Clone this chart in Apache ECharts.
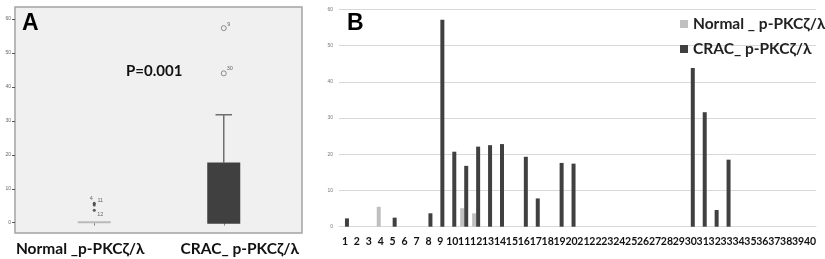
<!DOCTYPE html>
<html>
<head>
<meta charset="utf-8">
<script src="https://cdn.jsdelivr.net/npm/echarts@6/dist/echarts.min.js"></script>
<style>
html, body { margin: 0; padding: 0; background: #fff; }
#chart { width: 825px; height: 259px; }
</style>
</head>
<body>
<div id="chart"></div>
<script>
// ---- panel A : box plot ----
var groups = ['Normal _p-PKCζ/λ', 'CRAC_ p-PKCζ/λ'];
// [low whisker, Q1, median, Q3, high whisker]
var boxStats = [
  [0, 0, 0, 0.4, 0.4],
  [-0.3, -0.3, -0.3, 17.7, 31.8]
];
// [group index, value, case number]
var outliers = [
  [0, 5.7, '4'],
  [0, 5.2, '11'],
  [0, 3.7, '12'],
  [1, 57.3, '9'],
  [1, 44.0, '30']
];
var pText = 'P=0.001';

// ---- panel B : per case bars ----
var cases = ['1','2','3','4','5','6','7','8','9','10','11','12','13','14','15','16','17','18','19','20',
  '21','22','23','24','25','26','27','28','29','30','31','32','33','34','35','36','37','38','39','40'];
var normalVals = [0,0,0,5.5,0,0,0,0,0,0, 5.1,3.7,0,0,0,0,0,0,0,0,
  0,0,0,0,0,0,0,0,0,0, 0,0,0,0,0,0,0,0,0,0];
var cracVals = [2.3,0,0,0,2.5,0,0,3.7,57.1,20.7, 16.8,22.1,22.5,22.8,0,19.3,7.8,0,17.6,17.4,
  0,0,0,0,0,0,0,0,0,43.8, 31.6,4.6,18.5,0,0,0,0,0,0,0];
var seriesNames = ['Normal _ p-PKCζ/λ', 'CRAC_ p-PKCζ/λ'];

var boxColors = ['#bababa', '#404040'];
var labelFont = 'Lato, "Open Sans", sans-serif';

// where the case numbers sit around each outlier
var outlierLabelOffset = {
  '4': [-3, -5], '11': [6, -5], '12': [6, 4], '9': [5, -4], '30': [6, -5]
};

var chart = echarts.init(document.getElementById('chart'));

function renderBox(params, api) {
  var i = api.value(0);
  var q1 = api.coord([i, api.value(2)]);
  var q3 = api.coord([i, api.value(4)]);
  var hi = api.coord([i, api.value(5)]);
  var bw = api.size([1, 0])[0] * 0.255;
  var cx = q1[0];
  var kids = [];
  if (hi[1] < q3[1] - 0.5) {
    kids.push({ type: 'line', shape: { x1: cx, y1: q3[1], x2: cx, y2: hi[1] },
      style: { stroke: '#6e6e6e', lineWidth: 1.5 } });
    kids.push({ type: 'line', shape: { x1: cx - bw / 4, y1: hi[1], x2: cx + bw / 4, y2: hi[1] },
      style: { stroke: '#6e6e6e', lineWidth: 1.5 } });
  }
  kids.push({ type: 'rect',
    shape: { x: cx - bw / 2, y: q3[1], width: bw, height: Math.max(q1[1] - q3[1], 2) },
    style: { fill: boxColors[params.dataIndex] } });
  return { type: 'group', children: kids };
}

var option = {
  animation: false,
  title: [
    { text: 'A', left: 22, top: 12, padding: 0,
      textStyle: { fontFamily: 'Liberation Sans, Arial', fontWeight: 'bold', fontSize: 23, color: '#000' } },
    { text: 'B', left: 347, top: 12, padding: 0,
      textStyle: { fontFamily: 'Liberation Sans, Arial', fontWeight: 'bold', fontSize: 23, color: '#000' } },
    { text: pText, left: 126, top: 64, padding: 0,
      textStyle: { fontFamily: labelFont, fontWeight: 'bold', fontSize: 15, color: '#111' } }
  ],
  legend: {
    data: seriesNames,
    orient: 'vertical',
    left: 680,
    top: 16,
    padding: 0,
    icon: 'rect',
    itemWidth: 8,
    itemHeight: 8,
    itemGap: 9,
    textStyle: { fontFamily: labelFont, fontWeight: 'bold', fontSize: 15.5, color: '#222' }
  },
  grid: [
    // frame of panel A
    { left: 15, top: 7, width: 287, height: 226, show: true,
      backgroundColor: '#f0f0f0', borderColor: '#a3a3a3', borderWidth: 1.5 },
    // box plot area
    { left: 29.5, top: 19, width: 259, height: 203.7 },
    // panel B
    { left: 339, right: 9, top: 9.3, bottom: 32.3 }
  ],
  xAxis: [
    { gridIndex: 0, type: 'value', show: false, min: 0, max: 1 },
    { gridIndex: 1, type: 'category', data: groups, offset: 10.3,
      axisLine: { show: false },
      axisTick: { show: true, alignWithLabel: true, length: 3, lineStyle: { color: '#888' } },
      axisLabel: {
        interval: 0,
        hideOverlap: false,
        margin: 8,
        formatter: function (v, i) { return i === 0 ? '{l|' + v + '}' : '{r|' + v + '}'; },
        rich: {
          l: { fontFamily: labelFont, fontWeight: 'bold', fontSize: 15.5, color: '#111', padding: [0, 28, 0, 0] },
          r: { fontFamily: labelFont, fontWeight: 'bold', fontSize: 15.5, color: '#111', padding: [0, 0, 0, 32] }
        }
      } },
    { gridIndex: 2, type: 'category', data: cases,
      axisLine: { show: true, lineStyle: { color: '#d9d9d9', width: 1 } },
      axisTick: { show: false },
      axisLabel: { interval: 0, hideOverlap: false, margin: 9, fontFamily: labelFont, fontWeight: 'bold',
        fontSize: 10.5, color: '#111' } }
  ],
  yAxis: [
    { gridIndex: 0, type: 'value', show: false, min: 0, max: 1 },
    { gridIndex: 1, type: 'value', min: 0, max: 60, interval: 10, offset: 14.5,
      axisLine: { show: false },
      axisTick: { show: true, length: 3, lineStyle: { color: '#555' } },
      axisLabel: { margin: 4, fontSize: 5, color: '#666', fontFamily: 'Liberation Sans, Arial' },
      splitLine: { show: false } },
    { gridIndex: 2, type: 'value', min: 0, max: 60, interval: 10,
      axisLine: { show: false },
      axisTick: { show: false },
      axisLabel: { margin: 6, fontSize: 5, color: '#777', fontFamily: 'Liberation Sans, Arial' },
      splitLine: { show: true, lineStyle: { color: '#d9d9d9', width: 1 } } }
  ],
  series: [
    { type: 'custom', xAxisIndex: 1, yAxisIndex: 1,
      renderItem: renderBox,
      encode: { x: 0, y: [1, 2, 3, 4, 5] },
      data: boxStats.map(function (s, i) { return [i].concat(s); }) },
    { type: 'scatter', xAxisIndex: 1, yAxisIndex: 1,
      data: outliers.map(function (o) {
        var crac = o[0] === 1;
        return {
          value: [o[0], o[1]],
          symbolSize: crac ? 5 : 3,
          itemStyle: crac
            ? { color: '#f0f0f0', borderColor: '#555', borderWidth: 0.8 }
            : { color: '#333' },
          label: { show: true, position: 'inside', formatter: o[2],
            offset: outlierLabelOffset[o[2]],
            fontSize: 5.5, color: '#444', fontFamily: 'Liberation Sans, Arial' }
        };
      }) },
    { type: 'bar', name: seriesNames[0], xAxisIndex: 2, yAxisIndex: 2,
      barWidth: 4, barGap: '0%', itemStyle: { color: '#bfbfbf' }, data: normalVals },
    { type: 'bar', name: seriesNames[1], xAxisIndex: 2, yAxisIndex: 2,
      barWidth: 4, barGap: '0%', itemStyle: { color: '#404040' }, data: cracVals }
  ]
};

chart.setOption(option);
</script>
</body>
</html>
